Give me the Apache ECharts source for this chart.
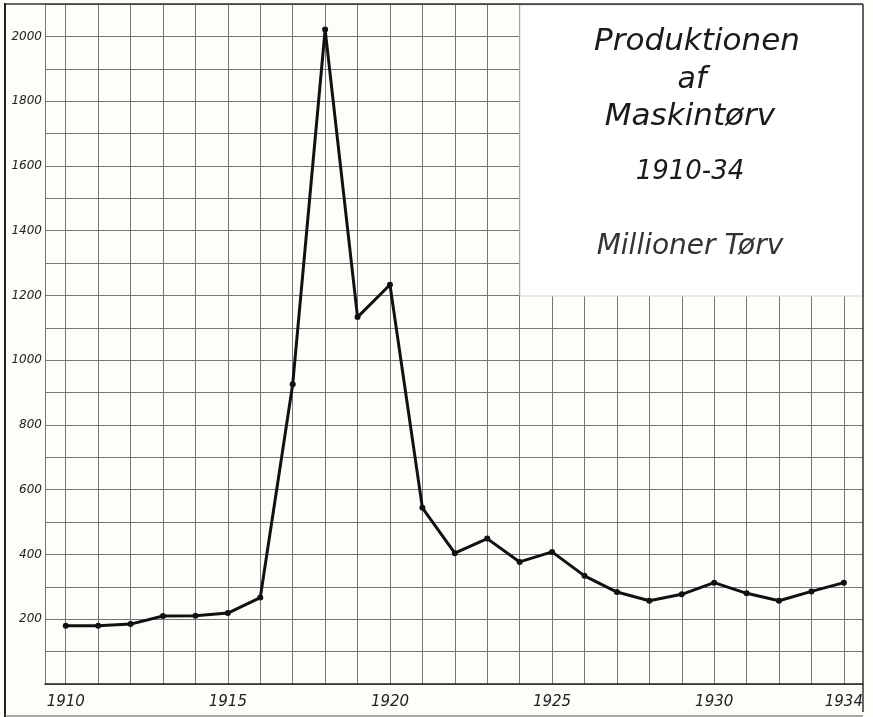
<!DOCTYPE html>
<html>
<head>
<meta charset="utf-8">
<script src="https://cdn.jsdelivr.net/npm/echarts@6/dist/echarts.min.js"></script>
<style>
html,body{margin:0;padding:0;background:#fdfdfa;}
#chart{width:873px;height:717px;}
</style>
</head>
<body>
<div id="chart"></div>
<script>
// Data
var years = [1910,1911,1912,1913,1914,1915,1916,1917,1918,1919,1920,1921,1922,1923,1924,1925,1926,1927,1928,1929,1930,1931,1932,1933,1934];
var production = [180,180,185,210,211,219,267,926,2021,1133,1233,544,404,449,377,408,334,284,257,277,313,280,257,286,313];
var xLabelYears = [1910,1915,1920,1925,1930,1934];
var titleLines = ['Produktionen','af','Maskintørv','1910-34'];
var unitText = 'Millioner Tørv';

var chart = echarts.init(document.getElementById('chart'), null, {renderer:'canvas'});
var gridColor = '#757575';
var fontItalic = 'DejaVu Sans';

var option = {
  backgroundColor: '#fdfdfa',
  animation: false,
  grid: {left: 45, right: 10, top: 4, bottom: 33},
  xAxis: {
    type: 'value',
    min: 1909.36,
    max: 1934.59,
    axisLine: {show: true, lineStyle: {color: '#222', width: 1.5}},
    axisTick: {show: false, customValues: years},
    splitLine: {show: true, lineStyle: {color: gridColor, width: 1}},
    axisLabel: {
      customValues: xLabelYears,
      margin: 11,
      fontFamily: fontItalic, fontStyle: 'italic', fontSize: 15, color: '#222',
      formatter: function(v){ return String(v); }
    }
  },
  yAxis: {
    type: 'value',
    min: 0, max: 2100, interval: 100,
    axisLine: {show: true, lineStyle: {color: gridColor, width: 1}},
    axisTick: {show: false},
    splitLine: {show: true, lineStyle: {color: gridColor, width: 1}},
    axisLabel: {
      margin: 3,
      fontFamily: fontItalic, fontStyle: 'italic', fontSize: 12, color: '#222',
      formatter: function(v){ return (v > 0 && v <= 2000 && v % 200 === 0) ? String(v) : ''; }
    }
  },
  series: [{
    type: 'line',
    data: years.map(function(y, i){ return [y, production[i]]; }),
    lineStyle: {color: '#111', width: 3},
    itemStyle: {color: '#111'},
    symbol: 'circle',
    symbolSize: 6,
    z: 5
  }],
  graphic: [
    {type:'rect', z: 10, shape:{x:520, y:5, width:343, height:291}, style:{fill:'#ffffff', stroke:'#d5d5d5', lineWidth:1}},
    {type:'text', z: 11, x: 697, y: 42, style:{text: titleLines[0], font:'italic 31px "DejaVu Sans"', fill:'#1a1a1a', align:'center', verticalAlign:'middle'}},
    {type:'text', z: 11, x: 692, y: 80, style:{text: titleLines[1], font:'italic 30px "DejaVu Sans"', fill:'#1a1a1a', align:'center', verticalAlign:'middle'}},
    {type:'text', z: 11, x: 690, y: 117, style:{text: titleLines[2], font:'italic 31px "DejaVu Sans"', fill:'#1a1a1a', align:'center', verticalAlign:'middle'}},
    {type:'text', z: 11, x: 690, y: 172, style:{text: titleLines[3], font:'italic 26px "DejaVu Sans"', fill:'#1a1a1a', align:'center', verticalAlign:'middle'}},
    {type:'text', z: 11, x: 690, y: 247, style:{text: unitText, font:'italic 200 28px "DejaVu Sans"', fill:'#333', align:'center', verticalAlign:'middle'}},
    // outer frame
    {type:'line', z: 12, shape:{x1:5, y1:3, x2:5, y2:717}, style:{stroke:'#222', lineWidth:2}},
    {type:'line', z: 12, shape:{x1:5, y1:4, x2:863, y2:4}, style:{stroke:'#333', lineWidth:1.5}},
    {type:'line', z: 12, shape:{x1:863, y1:4, x2:863, y2:712}, style:{stroke:'#333', lineWidth:1.5}},
    {type:'line', z: 12, shape:{x1:5, y1:716, x2:863, y2:716}, style:{stroke:'#555', lineWidth:1}}
  ]
};
chart.setOption(option);
</script>
</body>
</html>
